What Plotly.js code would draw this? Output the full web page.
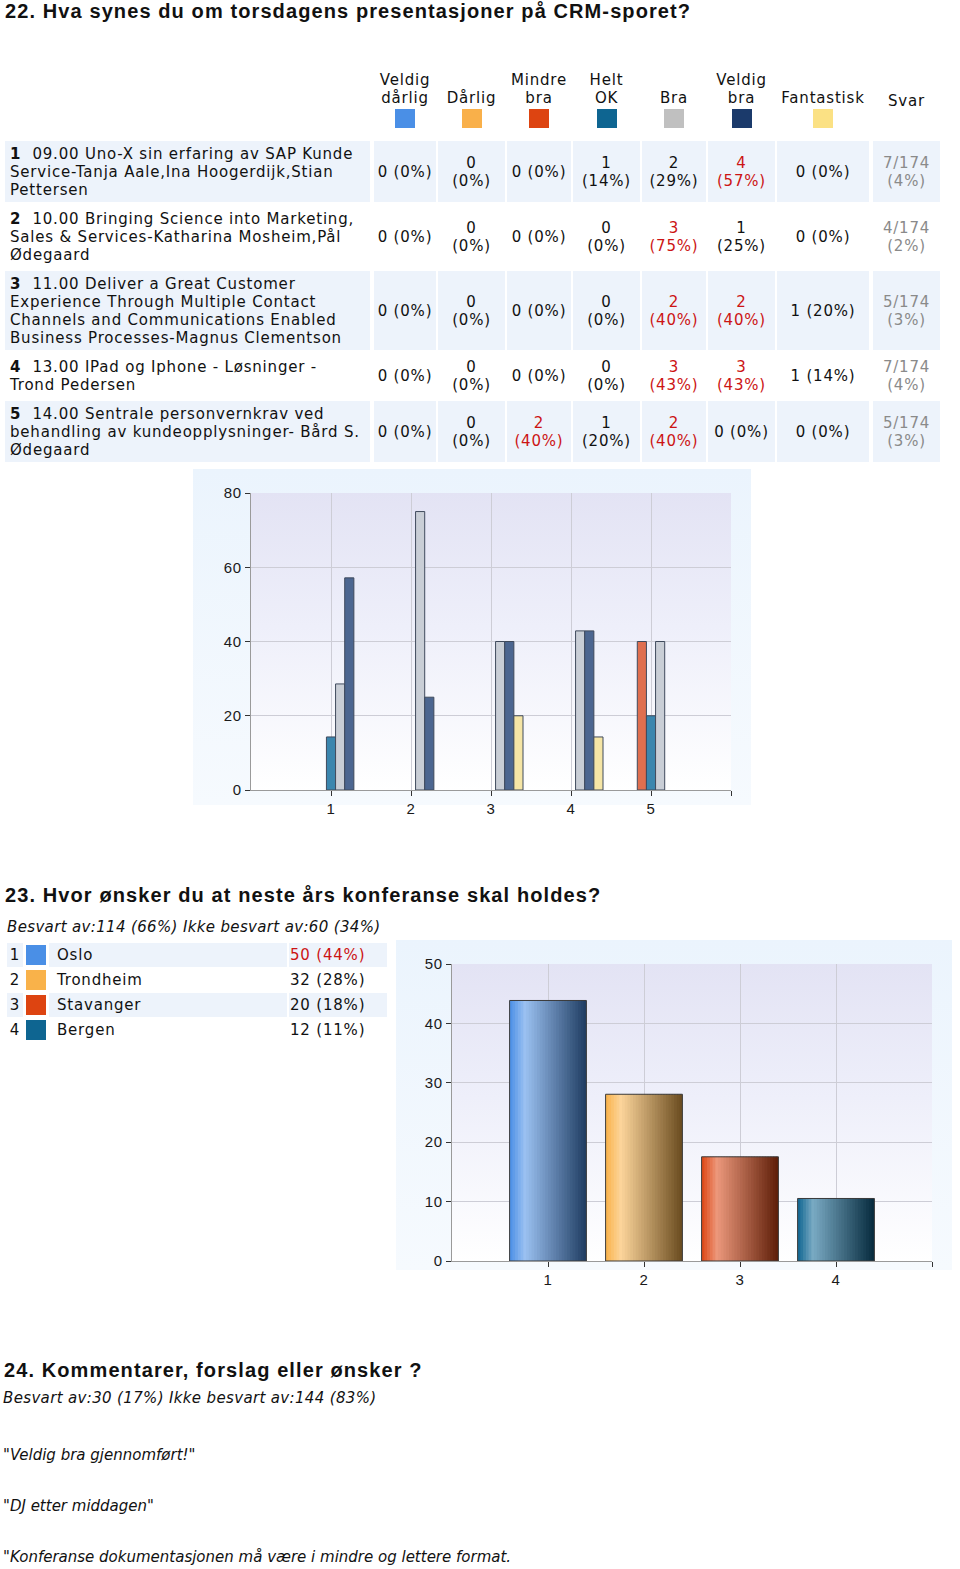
<!DOCTYPE html>
<html><head><meta charset="utf-8">
<script src="https://cdn.plot.ly/plotly-3.0.1.min.js"></script>
<style>
html,body{margin:0;padding:0;background:#fff;}
body{width:960px;height:1569px;overflow:hidden;position:relative;font-family:"DejaVu Sans",Verdana,sans-serif;font-size:15px;letter-spacing:0.8px;color:#111;}
.h{position:absolute;margin:0;font-family:"Liberation Sans",Arial,sans-serif;font-weight:bold;font-size:20px;letter-spacing:1.1px;line-height:22px;color:#111;white-space:nowrap;}
.it{position:absolute;font-style:italic;white-space:nowrap;line-height:18px;letter-spacing:0.35px;}
.cm{letter-spacing:0px;}
.cell{position:absolute;display:flex;align-items:center;justify-content:center;text-align:center;line-height:18px;box-sizing:border-box;white-space:nowrap;}
.qcell{justify-content:flex-start;text-align:left;padding-left:5px;}
.red{color:#cc1414;}
.grey{color:#8a8a8a;}
.hdr{position:absolute;text-align:center;line-height:18px;}
</style>
</head>
<body>
<div id="page"></div>
<script>
// ---------- DATA ----------
const title22 = '22. Hva synes du om torsdagens presentasjoner på CRM-sporet?';
const categories = ['Veldig dårlig','Dårlig','Mindre bra','Helt OK','Bra','Veldig bra','Fantastisk'];
const questionNums = [1,2,3,4,5];
const questionLines = [
  ['09.00 Uno-X sin erfaring av SAP Kunde','Service-Tanja Aale,Ina Hoogerdijk,Stian','Pettersen'],
  ['10.00 Bringing Science into Marketing,','Sales & Services-Katharina Mosheim,Pål','Ødegaard'],
  ['11.00 Deliver a Great Customer','Experience Through Multiple Contact','Channels and Communications Enabled','Business Processes-Magnus Clementson'],
  ['13.00 IPad og Iphone - Løsninger -','Trond Pedersen'],
  ['14.00 Sentrale personvernkrav ved','behandling av kundeopplysninger- Bård S.','Ødegaard']
];
const veldigDarlig = [0,0,0,0,0];
const darlig       = [0,0,0,0,0];
const mindreBra    = [0,0,0,0,2];
const heltOK       = [1,0,0,0,1];
const bra          = [2,3,2,3,2];
const veldigBra    = [4,1,2,3,0];
const fantastisk   = [0,0,1,1,0];
const svarTotals   = [7,4,5,7,5];
const respondents  = 174;

const title23 = '23. Hvor ønsker du at neste års konferanse skal holdes?';
const answered23 = 114, notAnswered23 = 60;
const cities = ['Oslo','Trondheim','Stavanger','Bergen'];
const cityVotes = [50,32,20,12];

const title24 = '24. Kommentarer, forslag eller ønsker ?';
const answered24 = 30, notAnswered24 = 144;
const comments = ['Veldig bra gjennomført!','DJ etter middagen','Konferanse dokumentasjonen må være i mindre og lettere format.'];

// ---------- STYLE ----------
const swatch = ['#4a8fe6','#f9b04a','#dd4411','#0e6591','#c0c0c0','#1b3a6b','#fbe184'];
const barCol1 = ['#5b93dc','#f4b860','#df6f4f','#3b86ae','#c9ced6','#4c6690','#f5e5a5'];
const citySwatch = ['#4a8fe6','#f9b24a','#dd4411','#0e6591'];
const colX = [5,374,438,507,573,642,708,777,873];
const colW = [365,62,67,64,67,64,67,92,67];
const colMode = ['m','n','m','n','n','m','w'];
const lightBg = '#edf3fb';

const page = document.getElementById('page');
function el(tag, cls, css, html){const d=document.createElement(tag); if(cls) d.className=cls; Object.assign(d.style,css||{}); if(html!==undefined) d.innerHTML=html; page.appendChild(d); return d;}
function esc(s){return s.replace(/&/g,'&amp;').replace(/</g,'&lt;');}

// ---------- Q22 header & table ----------
el('div','h',{left:'5px',top:'0px'},esc(title22));
const series = [veldigDarlig,darlig,mindreBra,heltOK,bra,veldigBra,fantastisk];
categories.forEach((c,j)=>{
  const parts = c.split(' ');
  const n = parts.length;
  const top = 128 - 19 - 2 - n*18;
  el('div','hdr',{left:colX[j+1]+'px',width:colW[j+1]+'px',top:top+'px'},
    parts.join('<br>')+'<div style="margin:2px auto 0;width:20px;height:19px;background:'+swatch[j]+'"></div>');
});
el('div','hdr',{left:colX[8]+'px',width:colW[8]+'px',top:'92px'},'Svar');

let y = 141;
questionNums.forEach((q,i)=>{
  const counts = series.map(s=>s[i]);
  const mx = Math.max(...counts);
  const cellTexts = counts.map((c,j)=>{
    const t = c+' ('+Math.round(c/svarTotals[i]*100)+'%)';
    const wrap = colMode[j]==='n' || (colMode[j]==='m' && t.length>6);
    const html = wrap ? t.replace(' ','<br>') : t;
    return {html, red: c===mx && c>0};
  });
  const lines = Math.max(questionLines[i].length, 2);
  const h = lines*18+7;
  const bg = (i%2===0)? lightBg : '#fff';
  const qhtml = '<div><b>'+q+'</b>&nbsp;&nbsp;'+questionLines[i].map(esc).join('<br>')+'</div>';
  el('div','cell qcell',{left:colX[0]+'px',top:y+'px',width:colW[0]+'px',height:h+'px',background:bg},qhtml);
  cellTexts.forEach((ct,j)=>{
    el('div','cell'+(ct.red?' red':''),{left:colX[j+1]+'px',top:y+'px',width:colW[j+1]+'px',height:h+'px',background:bg},'<div>'+ct.html+'</div>');
  });
  const sv = svarTotals[i]+'/'+respondents+'<br>('+Math.round(svarTotals[i]/respondents*100)+'%)';
  el('div','cell grey',{left:colX[8]+'px',top:y+'px',width:colW[8]+'px',height:h+'px',background:bg},'<div>'+sv+'</div>');
  y += h + 4;
});

// ---------- Q22 chart ----------
el('div','',{position:'absolute',left:'193px',top:'469px',width:'558px',height:'336px',background:'linear-gradient(to bottom,#ebf4fd 0%,#f6fafe 100%)'});
el('div','',{position:'absolute',left:'251px',top:'493px',width:'480px',height:'297px',background:'linear-gradient(to bottom,#e3e3f4 0%,#eeeffa 45%,#ffffff 100%)'});
const c1 = el('div','',{position:'absolute',left:'193px',top:'469px',width:'558px',height:'360px'});

const tickFont = {family:'Liberation Sans, Arial, sans-serif',size:15,color:'#1a1a1a'};
const traces1 = series.map((s,j)=>({
  type:'bar', x:questionNums, y:s.map((c,i)=> c>0 ? c/svarTotals[i]*100 : null),
  name:categories[j], hoverinfo:'skip',
  marker:{color:barCol1[j], line:{color:'#3f4a5c',width:1}}
}));
const layout1 = {
  width:558,height:360,margin:{l:58,r:20,t:24,b:39},
  paper_bgcolor:'rgba(0,0,0,0)',plot_bgcolor:'rgba(0,0,0,0)',
  barmode:'group',bargap:0.2,bargroupgap:0,showlegend:false,
  xaxis:{range:[0,6],tickvals:[1,2,3,4,5,6],ticktext:['1','2','3','4','5',''],ticks:'outside',ticklen:5,tickcolor:'#333',
    showgrid:true,gridcolor:'#cdcdd6',showline:true,linecolor:'#9a9a9a',zeroline:false,tickfont:tickFont,fixedrange:true},
  yaxis:{range:[0,80],tickvals:[0,20,40,60,80],ticks:'outside',ticklen:5,tickcolor:'#333',
    showgrid:true,gridcolor:'#cdcdd6',showline:true,linecolor:'#9a9a9a',zeroline:false,tickfont:tickFont,fixedrange:true}
};
Plotly.newPlot(c1,traces1,layout1,{staticPlot:true,displayModeBar:false});

// ---------- Q23 ----------
el('div','h',{left:'5px',top:'884px'},esc(title23));
el('div','it',{left:'7px',top:'918px'},'Besvart av:'+answered23+' ('+Math.round(answered23/(answered23+notAnswered23)*100)+'%) Ikke besvart av:'+notAnswered23+' ('+Math.round(notAnswered23/(answered23+notAnswered23)*100)+'%)');
const vmax = Math.max(...cityVotes);
cities.forEach((c,i)=>{
  const top = 943 + i*25;
  const bg = (i%2===0)? lightBg : '#fff';
  el('div','cell',{left:'7px',top:top+'px',width:'16px',height:'24px',background:bg,justifyContent:'center'},String(i+1));
  el('div','cell',{left:'24px',top:top+'px',width:'23px',height:'24px'},'<div style="width:20px;height:20px;background:'+citySwatch[i]+'"></div>');
  el('div','cell qcell',{left:'49px',top:top+'px',width:'238px',height:'24px',background:bg,paddingLeft:'8px'},esc(c));
  const pct = Math.round(cityVotes[i]/answered23*100);
  el('div','cell qcell'+(cityVotes[i]===vmax?' red':''),{left:'289px',top:top+'px',width:'98px',height:'24px',background:bg,paddingLeft:'1px'},cityVotes[i]+' ('+pct+'%)');
});

el('div','',{position:'absolute',left:'396px',top:'940px',width:'556px',height:'330px',background:'linear-gradient(to bottom,#ebf4fd 0%,#f6fafe 100%)'});
el('div','',{position:'absolute',left:'452px',top:'964px',width:'480px',height:'297px',background:'linear-gradient(to bottom,#e3e3f4 0%,#eeeffa 45%,#ffffff 100%)'});
const c2 = el('div','',{position:'absolute',left:'396px',top:'940px',width:'556px',height:'360px'});

function hex2rgb(h){return [parseInt(h.substr(1,2),16),parseInt(h.substr(3,2),16),parseInt(h.substr(5,2),16)];}
function mix(a,b,t){return a.map((v,k)=>Math.round(v+(b[k]-v)*t));}
function rgb(a){return 'rgb('+a.join(',')+')';}
function shade(hex,t){
  const base=hex2rgb(hex), light=mix(base,[255,255,255],0.45), dark=mix(base,[0,0,0],0.58);
  if(t<0.2) return rgb(mix(base,light,t/0.2));
  return rgb(mix(light,dark,(t-0.2)/0.8));
}
const cityX = cities.map((c,i)=>i+1);
const cityPct = cityVotes.map(v=>v/answered23*100);
const N = 28, BW = 0.8;
const traces2 = [];
for(let k=0;k<N;k++){
  const t=(k+0.5)/N;
  traces2.push({type:'bar',x:cityX,y:cityPct,hoverinfo:'skip',
    width: k<N-1 ? BW/N*1.5 : BW/N, offset: -BW/2 + k*BW/N,
    marker:{color:citySwatch.map(h=>shade(h,t)),line:{width:0}}});
}
traces2.push({type:'bar',x:cityX,y:cityPct,hoverinfo:'skip',width:BW,offset:-BW/2,
  marker:{color:'rgba(0,0,0,0)',line:{color:'#3a3a3a',width:1}}});
const layout2 = {
  width:556,height:360,margin:{l:56,r:20,t:24,b:39},
  paper_bgcolor:'rgba(0,0,0,0)',plot_bgcolor:'rgba(0,0,0,0)',
  barmode:'overlay',showlegend:false,
  xaxis:{range:[0,5],tickvals:[1,2,3,4,5],ticktext:['1','2','3','4',''],ticks:'outside',ticklen:5,tickcolor:'#333',
    showgrid:true,gridcolor:'#cdcdd6',showline:true,linecolor:'#9a9a9a',zeroline:false,tickfont:tickFont,fixedrange:true},
  yaxis:{range:[0,50],tickvals:[0,10,20,30,40,50],ticks:'outside',ticklen:5,tickcolor:'#333',
    showgrid:true,gridcolor:'#cdcdd6',showline:true,linecolor:'#9a9a9a',zeroline:false,tickfont:tickFont,fixedrange:true}
};
Plotly.newPlot(c2,traces2,layout2,{staticPlot:true,displayModeBar:false});

// ---------- Q24 ----------
el('div','h',{left:'4px',top:'1359px'},esc(title24));
el('div','it',{left:'3px',top:'1389px'},'Besvart av:'+answered24+' ('+Math.round(answered24/(answered24+notAnswered24)*100)+'%) Ikke besvart av:'+notAnswered24+' ('+Math.round(notAnswered24/(answered24+notAnswered24)*100)+'%)');
comments.forEach((c,i)=>{
  el('div','it cm',{left:'3px',top:(1446+i*51)+'px'},'"'+esc(c)+(i<2?'"':''));
});
</script>
</body></html>
